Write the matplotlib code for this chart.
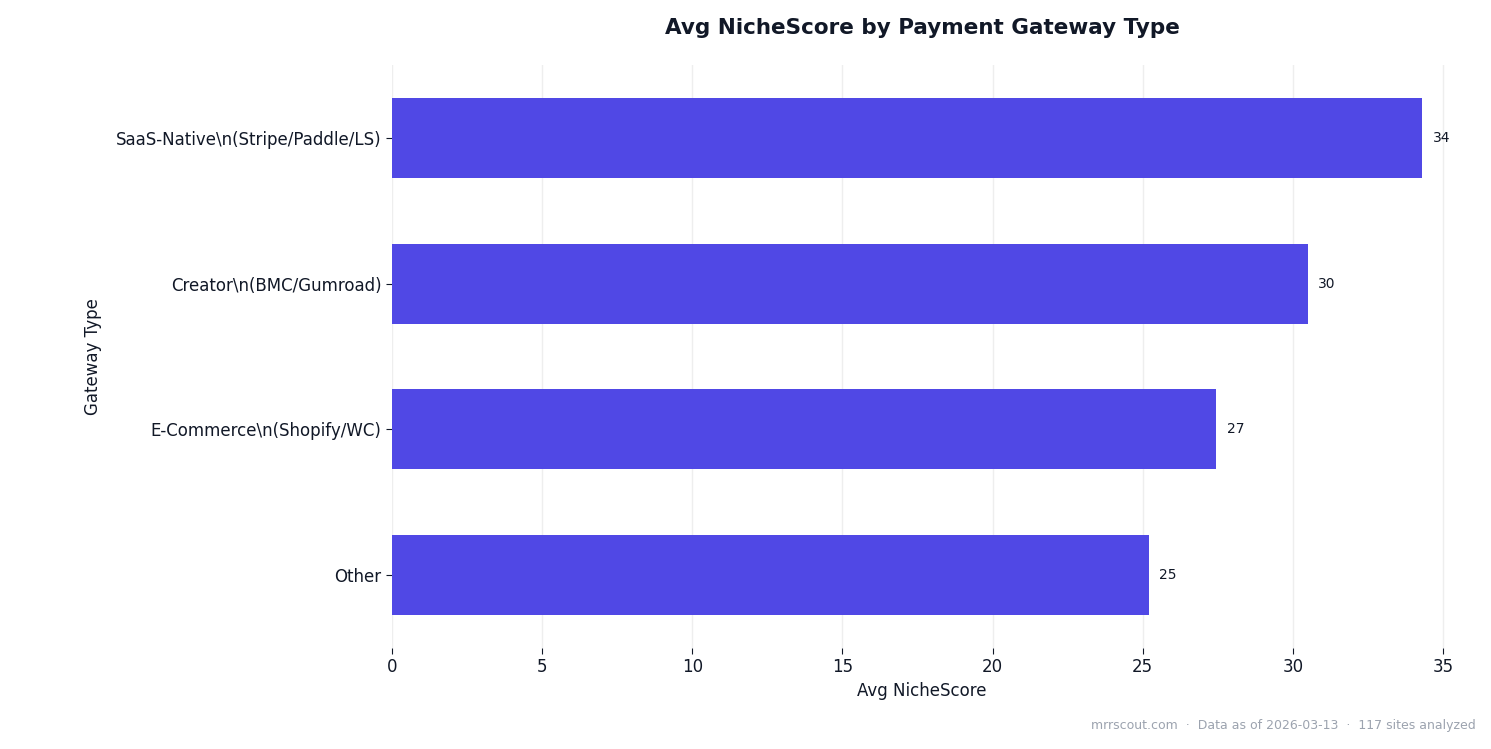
import matplotlib
matplotlib.use("Agg")
import matplotlib.pyplot as plt

categories = ["Other", "E-Commerce\\n(Shopify/WC)", "Creator\\n(BMC/Gumroad)",
              "SaaS-Native\\n(Stripe/Paddle/LS)"]
scores = [25.2, 27.45, 30.5, 34.3]
labels = ["25", "27", "30", "34"]

fig = plt.figure(figsize=(14.91, 7.49), dpi=100)
ax = fig.add_axes([392 / 1491, 1 - 648 / 749, (1452 - 392) / 1491, (648 - 65) / 749])

bars = ax.barh(categories, scores, height=0.55, color="#5048e5", zorder=2)
for b, t in zip(bars, labels):
    ax.text(b.get_width() + 0.35, b.get_y() + b.get_height() / 2, t,
            va="center", ha="left", fontsize=10, color="#111827")

ax.set_xlim(0, 35.3)
ax.set_ylim(-0.5, 3.5)
ax.set_xticks(range(0, 36, 5))
ax.grid(axis="x", color="#eeeeee", linewidth=1, zorder=0)
for s in ax.spines.values():
    s.set_visible(False)
ax.tick_params(axis="x", length=4, labelsize=12, colors="#111827")
ax.tick_params(axis="y", length=4, labelsize=12, colors="#111827")
ax.set_xlabel("Avg NicheScore", fontsize=12, color="#111827", labelpad=4)
ax.set_ylabel("Gateway Type", fontsize=12, color="#111827", labelpad=10)
ax.set_title("Avg NicheScore by Payment Gateway Type", fontsize=15.5,
             fontweight="bold", color="#111827", pad=22)
fig.text(1476 / 1491, 1 - 726 / 749, "mrrscout.com  ·  Data as of 2026-03-13  ·  117 sites analyzed",
         ha="right", va="center", fontsize=9, color="#9ca3af")

fig.savefig("out.png", dpi=100, facecolor="white")
